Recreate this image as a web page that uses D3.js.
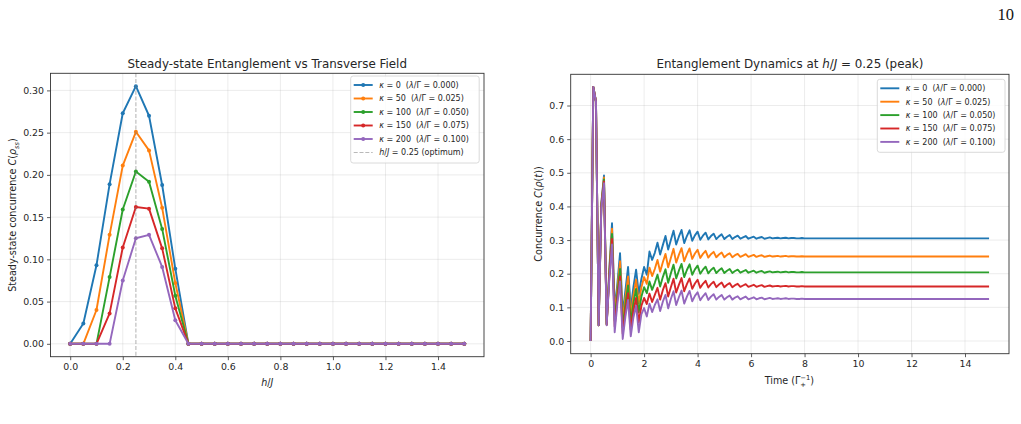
<!DOCTYPE html>
<html><head><meta charset="utf-8">
<script src="https://cdn.jsdelivr.net/npm/d3@7"></script>
<style>
body{margin:0;background:#fff}
text{font-family:"DejaVu Sans",sans-serif;fill:#262626;white-space:pre}
</style>
</head><body>
<svg id="c" width="1021" height="424"></svg>
<script>
// ---------------- DATA ----------------
const hJ = [0,0.05,0.1,0.15,0.2,0.25,0.3,0.35,0.4,0.45,0.5,0.55,0.6,0.65,0.7,0.75,0.8,0.85,0.9,0.95,1.0,1.05,1.1,1.15,1.2,1.25,1.3,1.35,1.4,1.45,1.5];
const kappas = ["0","50","100","150","200"];
const lambdaRatios = ["0.000","0.025","0.050","0.075","0.100"];
const colors = ["#1f77b4","#ff7f0e","#2ca02c","#d62728","#9467bd"];

const ssK0   = [0,0.024,0.093,0.189,0.273,0.305,0.270,0.188,0.089,0,0,0,0,0,0,0,0,0,0,0,0,0,0,0,0,0,0,0,0,0,0];
const ssK50  = [0,0,0.040,0.129,0.211,0.251,0.229,0.161,0.072,0,0,0,0,0,0,0,0,0,0,0,0,0,0,0,0,0,0,0,0,0,0];
const ssK100 = [0,0,0,0.079,0.159,0.204,0.192,0.136,0.057,0,0,0,0,0,0,0,0,0,0,0,0,0,0,0,0,0,0,0,0,0,0];
const ssK150 = [0,0,0,0.036,0.114,0.162,0.160,0.113,0.042,0,0,0,0,0,0,0,0,0,0,0,0,0,0,0,0,0,0,0,0,0,0];
const ssK200 = [0,0,0,0,0.075,0.125,0.129,0.091,0.028,0,0,0,0,0,0,0,0,0,0,0,0,0,0,0,0,0,0,0,0,0,0];
const optimumH = 0.25;

const timeSteps = [0,0.1,0.2,0.3,0.4,0.5,0.6,0.7,0.8,0.9,
 1.0,1.1,1.2,1.3,1.4,1.5,1.6,1.7,1.8,1.9,
 2.0,2.1,2.2,2.3,2.4,2.5,2.6,2.7,2.8,2.9,
 3.0,3.1,3.2,3.3,3.4,3.5,3.6,3.7,3.8,3.9,
 4.0,4.1,4.2,4.3,4.4,4.5,4.6,4.7,4.8,4.9,
 5.0,5.1,5.2,5.3,5.4,5.5,5.6,5.7,5.8,5.9,
 6.0,6.1,6.2,6.3,6.4,6.5,6.6,6.7,6.8,6.9,
 7.0,7.1,7.2,7.3,7.4,7.5,7.6,7.7,7.8,7.9,
 8.0,14.9];

const dynK0 = [0,0.755,0.712,0.047,0.410,0.492,0.052,0.215,0.350,0.095,
 0.170,0.261,0.080,0.150,0.220,0.095,0.160,0.212,0.140,0.185,
 0.220,0.197,0.266,0.241,0.262,0.292,0.257,0.285,0.312,0.272,
 0.300,0.328,0.287,0.310,0.330,0.291,0.312,0.329,0.298,0.314,
 0.325,0.301,0.313,0.322,0.302,0.312,0.319,0.303,0.311,0.317,
 0.303,0.310,0.315,0.303,0.309,0.313,0.304,0.308,0.312,0.304,
 0.307,0.310,0.304,0.307,0.309,0.304,0.306,0.308,0.305,0.306,
 0.307,0.305,0.306,0.307,0.305,0.306,0.306,0.305,0.305,0.306,
 0.305,0.305];
const dynK50 = [0,0.755,0.712,0.047,0.406,0.486,0.050,0.208,0.334,0.078,
 0.155,0.237,0.060,0.128,0.192,0.075,0.135,0.182,0.112,0.160,
 0.190,0.170,0.218,0.193,0.214,0.241,0.206,0.234,0.259,0.219,
 0.247,0.274,0.233,0.256,0.276,0.237,0.258,0.275,0.244,0.260,
 0.271,0.247,0.259,0.268,0.248,0.258,0.265,0.249,0.257,0.263,
 0.249,0.256,0.261,0.249,0.255,0.259,0.250,0.254,0.258,0.250,
 0.253,0.256,0.250,0.253,0.255,0.250,0.252,0.254,0.251,0.252,
 0.253,0.251,0.252,0.253,0.251,0.252,0.252,0.251,0.251,0.252,
 0.251,0.251];
const dynK100 = [0,0.755,0.712,0.047,0.402,0.480,0.049,0.200,0.318,0.060,
 0.140,0.214,0.040,0.108,0.165,0.055,0.112,0.155,0.085,0.132,
 0.160,0.142,0.177,0.152,0.173,0.197,0.162,0.190,0.213,0.173,
 0.201,0.227,0.186,0.209,0.229,0.190,0.211,0.228,0.197,0.213,
 0.224,0.200,0.212,0.221,0.201,0.211,0.218,0.202,0.210,0.216,
 0.202,0.209,0.214,0.202,0.208,0.212,0.203,0.207,0.211,0.203,
 0.206,0.209,0.203,0.206,0.208,0.203,0.205,0.207,0.204,0.205,
 0.206,0.204,0.205,0.206,0.204,0.205,0.205,0.204,0.204,0.205,
 0.204,0.204];
const dynK150 = [0,0.755,0.712,0.047,0.398,0.474,0.048,0.192,0.303,0.043,
 0.125,0.192,0.022,0.090,0.142,0.034,0.090,0.128,0.055,0.105,
 0.128,0.110,0.141,0.116,0.137,0.158,0.123,0.151,0.172,0.132,
 0.160,0.185,0.144,0.167,0.187,0.148,0.169,0.186,0.155,0.171,
 0.182,0.158,0.170,0.179,0.159,0.169,0.176,0.160,0.168,0.174,
 0.160,0.167,0.172,0.160,0.166,0.170,0.161,0.165,0.169,0.161,
 0.164,0.167,0.161,0.164,0.166,0.161,0.163,0.165,0.162,0.163,
 0.164,0.162,0.163,0.164,0.162,0.163,0.163,0.162,0.162,0.163,
 0.162,0.162];
const dynK200 = [0,0.755,0.712,0.047,0.395,0.469,0.047,0.185,0.287,0.026,
 0.110,0.177,0.006,0.072,0.122,0.014,0.070,0.105,0.026,0.080,
 0.098,0.073,0.111,0.086,0.107,0.124,0.089,0.117,0.137,0.097,
 0.125,0.148,0.107,0.130,0.150,0.111,0.132,0.149,0.118,0.134,
 0.145,0.121,0.133,0.142,0.122,0.132,0.139,0.123,0.131,0.137,
 0.123,0.130,0.135,0.123,0.129,0.133,0.124,0.128,0.132,0.124,
 0.127,0.130,0.124,0.127,0.129,0.124,0.126,0.128,0.125,0.126,
 0.127,0.125,0.126,0.127,0.125,0.126,0.126,0.125,0.125,0.126,
 0.125,0.125];

const xTicksLeft = [0,0.2,0.4,0.6,0.8,1.0,1.2,1.4];
const yTicksLeft = [0,0.05,0.10,0.15,0.20,0.25,0.30];
const xTicksRight = [0,2,4,6,8,10,12,14];
const yTicksRight = [0,0.1,0.2,0.3,0.4,0.5,0.6,0.7];

const ssSeries = [ssK0, ssK50, ssK100, ssK150, ssK200];
const dynSeries = [dynK0, dynK50, dynK100, dynK150, dynK200];

// ---------------- DRAW ----------------
const svg = d3.select("#c");
const TICK_FS = 9.4, TITLE_FS = 11.9, LABEL_FS = 9.6, LEG_FS = 8;
const SPINE = "#333";

function rich(t, parts, fs){
  let shift = 0;
  parts.forEach(p => {
    const s = p[0], st = p[1] || "";
    let target = 0, size = fs;
    if (st.includes("sub")) { target = fs*0.28; size = fs*0.7; }
    if (st.includes("sup")) { target = -fs*0.42; size = fs*0.7; }
    const ts = t.append("tspan").text(s).style("font-size", size+"px");
    if (target - shift !== 0) ts.attr("dy", target - shift);
    shift = target;
    if (st.includes("i")) ts.style("font-style","italic");
    if (p[2] != null) ts.attr("dx", p[2]);
  });
  return t;
}

function panel(cfg){
  const g = svg.append("g");
  const x = d3.scaleLinear().domain(cfg.xDomain).range([cfg.left, cfg.right]);
  const y = d3.scaleLinear().domain(cfg.yDomain).range([cfg.bottom, cfg.top]);
  const grid = g.append("g").attr("stroke","#b0b0b0").attr("stroke-opacity",0.3).attr("stroke-width",0.8);
  cfg.xTicks.forEach(v => grid.append("line").attr("x1",x(v)).attr("x2",x(v)).attr("y1",cfg.top).attr("y2",cfg.bottom));
  cfg.yTicks.forEach(v => grid.append("line").attr("y1",y(v)).attr("y2",y(v)).attr("x1",cfg.left).attr("x2",cfg.right));
  const xa = g.append("g").attr("transform",`translate(0,${cfg.bottom})`)
    .call(d3.axisBottom(x).tickValues(cfg.xTicks).tickFormat(cfg.xFmt).tickSizeOuter(0).tickSize(3.5).tickPadding(3));
  const ya = g.append("g").attr("transform",`translate(${cfg.left},0)`)
    .call(d3.axisLeft(y).tickValues(cfg.yTicks).tickFormat(cfg.yFmt).tickSizeOuter(0).tickSize(3.5).tickPadding(3));
  [xa, ya].forEach(a => {
    a.select(".domain").remove();
    a.selectAll(".tick line").attr("stroke", SPINE).attr("stroke-width",0.8);
    a.selectAll(".tick text").attr("fill","#262626").style("font-size",TICK_FS+"px").style("font-family","'DejaVu Sans',sans-serif");
  });
  cfg.x = x; cfg.y = y; cfg.g = g;
  return cfg;
}

function frame(cfg){
  cfg.g.append("rect").attr("x",cfg.left).attr("y",cfg.top)
    .attr("width",cfg.right-cfg.left).attr("height",cfg.bottom-cfg.top)
    .attr("fill","none").attr("stroke",SPINE).attr("stroke-width",0.9);
}

// ---------- Left panel ----------
const L = panel({left:50.5, right:484, top:73.3, bottom:356.7,
  xDomain:[-0.075,1.575], yDomain:[-0.01525,0.32025],
  xTicks:xTicksLeft, yTicks:yTicksLeft, xFmt:d3.format(".1f"), yFmt:d3.format(".2f")});

ssSeries.forEach((vals,i) => {
  const pts = hJ.map((h,j)=>[h, vals[j]]);
  L.g.append("path").datum(pts).attr("fill","none").attr("stroke",colors[i]).attr("stroke-width",1.9)
    .attr("stroke-linejoin","round")
    .attr("d", d3.line().x(d=>L.x(d[0])).y(d=>L.y(d[1])));
  L.g.append("g").selectAll("circle").data(pts).join("circle")
    .attr("cx",d=>L.x(d[0])).attr("cy",d=>L.y(d[1])).attr("r",2).attr("fill",colors[i]);
});
L.g.append("line").attr("x1",L.x(optimumH)).attr("x2",L.x(optimumH)).attr("y1",L.top).attr("y2",L.bottom)
  .attr("stroke","#808080").attr("stroke-opacity",0.55).attr("stroke-width",1.1).attr("stroke-dasharray","4,1.8");
frame(L);

rich(svg.append("text").attr("x",(L.left+L.right)/2).attr("y",68).attr("text-anchor","middle").style("font-size",TITLE_FS+"px"),
  [["Steady-state Entanglement vs Transverse Field"]], TITLE_FS);
rich(svg.append("text").attr("x",(L.left+L.right)/2).attr("y",386).attr("text-anchor","middle").style("font-size",LABEL_FS+"px"),
  [["h","i"],["/"],["J","i"]], LABEL_FS);
rich(svg.append("text").attr("transform",`translate(16,${(L.top+L.bottom)/2}) rotate(-90)`).attr("text-anchor","middle").style("font-size",LABEL_FS+"px"),
  [["Steady-state concurrence "],["C","i"],["("],["ρ","i"],["ss","i sub"],[")"]], LABEL_FS);

function legend(cfg, x0, y0, w, rowH, entries, markers){
  const lg = svg.append("g");
  const h = rowH*entries.length + 6;
  lg.append("rect").attr("x",x0).attr("y",y0).attr("width",w).attr("height",h).attr("rx",2.5)
    .attr("fill","#fff").attr("fill-opacity",0.85).attr("stroke","#d0d0d0").attr("stroke-width",0.8);
  entries.forEach((e,i)=>{
    const cy = y0 + 9 + i*rowH;
    lg.append("line").attr("x1",x0+3).attr("x2",x0+22).attr("y1",cy).attr("y2",cy)
      .attr("stroke",e.color).attr("stroke-width",e.dash?1.1:1.9)
      .attr("stroke-opacity",e.dash?0.55:1).attr("stroke-dasharray",e.dash?"4,1.8":null);
    if (markers && !e.dash) lg.append("circle").attr("cx",x0+12.5).attr("cy",cy).attr("r",2).attr("fill",e.color);
    rich(lg.append("text").attr("x",x0+28.5).attr("y",cy+2.9).style("font-size",LEG_FS+"px"), e.parts, LEG_FS);
  });
}
const legEntries = kappas.map((k,i)=>({color:colors[i], parts:[["κ","i"],[" = "+k+"  ("],["λ","i"],["/Γ = "+lambdaRatios[i]+")"]]}));
legend(L, 350.7, 76, 128.5, 13.5, legEntries.concat([{color:"#808080", dash:true, parts:[["h","i"],["/"],["J","i"],[" = 0.25 (optimum)"]]}]), true);

// ---------- Right panel ----------
const R = panel({left:570.7, right:1009, top:74.3, bottom:353.7,
  xDomain:[-0.745,15.645], yDomain:[-0.03775,0.79275],
  xTicks:xTicksRight, yTicks:yTicksRight, xFmt:d3.format("d"), yFmt:d3.format(".1f")});
dynSeries.forEach((vals,i)=>{
  const pts = timeSteps.map((t,j)=>[t, vals[j]]);
  R.g.append("path").datum(pts).attr("fill","none").attr("stroke",colors[i]).attr("stroke-width",1.9)
    .attr("stroke-linejoin","round")
    .attr("d", d3.line().x(d=>R.x(d[0])).y(d=>R.y(d[1])));
});
frame(R);

rich(svg.append("text").attr("x",(R.left+R.right)/2).attr("y",68).attr("text-anchor","middle").style("font-size",TITLE_FS+"px"),
  [["Entanglement Dynamics at "],["h","i"],["/"],["J","i"],[" = 0.25 (peak)"]], TITLE_FS);
(function(){
  const t = svg.append("text").attr("y",384).attr("text-anchor","start").style("font-size",LABEL_FS+"px");
  t.append("tspan").text("Time (Γ");
  const sup = t.append("tspan").text("−1").style("font-size",(LABEL_FS*0.7)+"px").attr("dy",-LABEL_FS*0.42);
  const supW = sup.node().getComputedTextLength();
  const sub = t.append("tspan").text("+").style("font-size",(LABEL_FS*0.7)+"px").attr("dx",-supW).attr("dy",LABEL_FS*0.72);
  const subW = sub.node().getComputedTextLength();
  t.append("tspan").text(")").attr("dx",supW-subW).attr("dy",-LABEL_FS*0.30);
  const bb = t.node().getBBox();
  t.attr("x",(R.left+R.right)/2 - bb.width/2);
})();
rich(svg.append("text").attr("transform",`translate(541.5,${(R.top+R.bottom)/2}) rotate(-90)`).attr("text-anchor","middle").style("font-size",LABEL_FS+"px"),
  [["Concurrence "],["C","i"],["("],["ρ","i"],["("],["t","i"],["))"]], LABEL_FS);
legend(R, 877.3, 79.3, 127.7, 13.4, legEntries, false);

svg.append("text").attr("x",1014).attr("y",20).attr("text-anchor","end")
  .style("font-family","'Liberation Serif','DejaVu Serif',serif").style("font-size","16.5px").style("fill","#111").text("10");
</script>
</body></html>
